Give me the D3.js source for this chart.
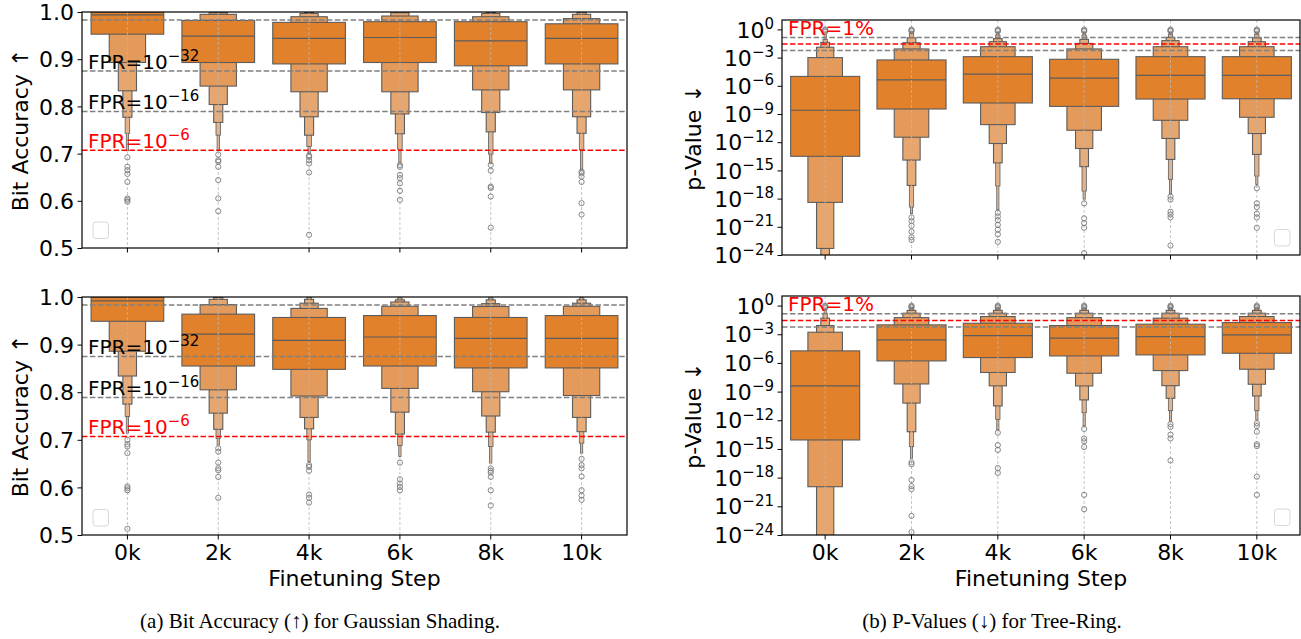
<!DOCTYPE html>
<html><head><meta charset="utf-8">
<script src="https://cdn.jsdelivr.net/npm/d3@7"></script>
<style>
body{margin:0;background:#fff}
svg{display:block}
text{font-family:"DejaVu Sans",sans-serif}
text.cap{font-family:"Liberation Serif","Times New Roman",serif}
</style>
</head><body>
<svg id="c" width="1301" height="639"></svg>
<script>
// ---------------- DATA ----------------
const categories = ["0k","2k","4k","6k","8k","10k"];
const accTicks = [0.5,0.6,0.7,0.8,0.9,1.0];
const pvTickExps = [0,-3,-6,-9,-12,-15,-18,-21,-24];

// (a) top: Bit accuracy letter-value boxes (level 0 = quartiles, outward)
const accTopMedian = [0.994,0.949,0.944,0.946,0.939,0.944];
const accTopLo = [
  [0.953,0.893,0.833,0.777,0.743,0.706],
  [0.893,0.843,0.804,0.766,0.739,0.706],
  [0.890,0.831,0.778,0.739,0.715,0.700],
  [0.893,0.831,0.784,0.742,0.709,0.680],
  [0.886,0.835,0.787,0.746,0.699,0.679],
  [0.890,0.835,0.778,0.743,0.708,0.665]];
const accTopHi = [
  [1.0,1.0,1.0,1.0,1.0,1.0],
  [0.982,0.995,0.9985,1.0,1.0,1.0],
  [0.978,0.990,0.997,0.999,1.0,1.0],
  [0.9795,0.9915,0.9985,1.0,1.0,1.0],
  [0.9795,0.990,0.997,0.999,1.0,1.0],
  [0.975,0.986,0.995,0.999,1.0,1.0]];
const accTopOutliers = [
  [0.692,0.672,0.665,0.657,0.640,0.605,0.602,0.598],
  [0.698,0.686,0.683,0.672,0.644,0.605,0.578],
  [0.696,0.693,0.686,0.679,0.660,0.528],
  [0.676,0.672,0.655,0.648,0.637,0.621,0.602],
  [0.676,0.664,0.630,0.627,0.609,0.543],
  [0.662,0.658,0.651,0.640,0.595,0.571]];

// (a) bottom
const accBotMedian = [0.992,0.922,0.909,0.916,0.913,0.913];
const accBotLo = [
  [0.949,0.886,0.834,0.775,0.749,0.714],
  [0.855,0.805,0.756,0.722,0.703,0.689],
  [0.848,0.792,0.747,0.723,0.700,0.654],
  [0.855,0.808,0.758,0.712,0.688,0.665],
  [0.851,0.801,0.750,0.716,0.686,0.651],
  [0.851,0.793,0.747,0.717,0.693,0.672]];
const accBotHi = [
  [1.0,1.0,1.0,1.0,1.0,1.0],
  [0.964,0.984,0.995,0.999,1.0,1.0],
  [0.957,0.976,0.987,0.995,0.999,1.0],
  [0.961,0.9805,0.9895,0.994,0.998,1.0],
  [0.957,0.980,0.986,0.994,0.998,1.0],
  [0.961,0.9805,0.987,0.994,0.998,1.0]];
const accBotOutliers = [
  [0.700,0.691,0.686,0.672,0.602,0.598,0.594,0.513],
  [0.682,0.675,0.652,0.640,0.636,0.622,0.578],
  [0.647,0.643,0.635,0.585,0.578,0.568],
  [0.652,0.617,0.608,0.601,0.594],
  [0.640,0.635,0.631,0.622,0.594,0.562],
  [0.660,0.647,0.640,0.623,0.594,0.583,0.574]];

// (b) top: p-values, stored as log10(p)
const pvTopMedianLog = [-8.6,-5.37,-4.76,-5.19,-4.9,-4.9];
const pvTopLoLog = [
  [-13.5,-18.4,-23.3,-27,-28,-29],
  [-8.47,-11.47,-13.9,-16.6,-18.9,-19.6],
  [-7.83,-10.13,-12.14,-14.2,-16.66,-19.2],
  [-8.19,-10.73,-12.67,-14.6,-17.2,-18.06],
  [-7.41,-9.67,-11.6,-13.83,-15.95,-17.5],
  [-7.38,-9.35,-11.08,-13.3,-15.6,-16.5]];
const pvTopHiLog = [
  [-5.0,-3.0,-1.9,-1.38,-1.06,-0.5],
  [-3.25,-2.08,-1.42,-0.89,-0.42,-0.2],
  [-2.9,-1.84,-1.31,-0.98,-0.6,-0.3],
  [-3.18,-2.08,-1.49,-1.06,-0.6,-0.3],
  [-2.9,-1.84,-1.2,-0.85,-0.5,-0.3],
  [-2.9,-1.84,-1.31,-0.9,-0.5,-0.3]];
const pvTopOutliersLog = [
  [-0.02,-0.12,-0.25],
  [-20.0,-20.4,-20.9,-21.5,-22.1,-22.4,-0.02,-0.12,-0.2],
  [-19.5,-19.9,-20.3,-20.8,-21.3,-21.8,-22.6,-0.02,-0.12,-0.2],
  [-18.5,-20.1,-20.6,-21.1,-23.8,-0.02,-0.12,-0.2],
  [-17.8,-18.1,-19.4,-19.7,-20.0,-23.0,-0.02,-0.12,-0.2],
  [-16.9,-18.5,-18.9,-19.6,-20.0,-21.1,-0.02,-0.12,-0.2]];

// (b) bottom
const pvBotMedianLog = [-8.41,-3.59,-3.14,-3.41,-3.24,-3.07];
const pvBotLoLog = [
  [-14.06,-18.95,-26,-27,-28,-29],
  [-5.79,-8.2,-10.2,-13.2,-14.76,-16.0],
  [-5.44,-7.0,-8.4,-10.5,-11.9,-13.0],
  [-5.27,-7.08,-8.41,-9.87,-11.2,-12.6],
  [-5.16,-6.8,-8.38,-9.7,-11.0,-12.1],
  [-4.99,-6.66,-8.23,-9.46,-11.0,-11.97]];
const pvBotHiLog = [
  [-4.74,-2.79,-2.09,-1.32,-0.8,-0.4],
  [-2.02,-1.26,-0.8,-0.5,-0.3,-0.15],
  [-1.85,-1.15,-0.8,-0.5,-0.3,-0.15],
  [-2.09,-1.26,-0.8,-0.5,-0.3,-0.15],
  [-1.95,-1.32,-0.8,-0.5,-0.3,-0.15],
  [-1.78,-1.15,-0.8,-0.5,-0.3,-0.15]];
const pvBotOutliersLog = [
  [-0.02,-0.12,-0.25],
  [-16.4,-16.6,-18.25,-18.9,-19.2,-22.0,-23.7,-0.02,-0.12,-0.2],
  [-13.3,-14.6,-15.1,-17.0,-17.5,-0.02,-0.12,-0.2],
  [-12.9,-13.9,-14.2,-14.8,-19.8,-21.3,-0.02,-0.12,-0.2],
  [-12.4,-12.7,-13.5,-13.9,-16.2,-0.02,-0.12,-0.2],
  [-12.3,-12.6,-13.2,-14.5,-14.7,-17.9,-19.8,-0.02,-0.12,-0.2]];

// reference lines
const accGrayLines = [0.983,0.875,0.789];
const accRedLines = [0.707];
const accLineLabels = [
  {v:0.875, base:"FPR=10", sup:"\u221232", color:"#000"},
  {v:0.789, base:"FPR=10", sup:"\u221216", color:"#000"},
  {v:0.707, base:"FPR=10", sup:"\u22126", color:"#ff0000"}];
const pvGrayLinesLog = [-0.85,-2.25];
const pvRedLinesLog = [-1.55];
const pvLineLabels = [{v:-0.85, base:"FPR=1%", sup:"", color:"#ff0000"}];

const levelColors = ["#e1812c","#e49a5a","#e7a66e","#e9ad7a","#eab284","#ebb68b"];

// ---------------- DRAW ----------------
const svg = d3.select("#c");
let clipN = 0;

function panel(o){
  const g = svg.append("g");
  const x = d3.scaleBand().domain(categories).range([o.x0,o.x1]).padding(0);
  const y = o.y;
  const id = "clip"+(clipN++);
  svg.append("defs").append("clipPath").attr("id",id)
    .append("rect").attr("x",o.x0).attr("y",o.y0).attr("width",o.x1-o.x0).attr("height",o.y1-o.y0);
  const plot = g.append("g").attr("clip-path","url(#"+id+")");
  const bw = x.bandwidth()*0.8;

  categories.forEach((c,i)=>{
    const cx = x(c)+x.bandwidth()/2;
    const lo=o.lo[i], hi=o.hi[i];
    for(let k=lo.length-1;k>=0;k--){
      const w = bw/Math.pow(2,k);
      const yt = y(o.v(hi[k])), yb = y(o.v(lo[k]));
      plot.append("rect").attr("x",cx-w/2).attr("y",yt).attr("width",w).attr("height",Math.max(0,yb-yt))
        .attr("fill",levelColors[k]).attr("stroke","#5c5c5c").attr("stroke-width",k>3?0.8:1.1);
    }
    plot.append("line").attr("x1",cx-bw/2).attr("x2",cx+bw/2)
      .attr("y1",y(o.v(o.med[i]))).attr("y2",y(o.v(o.med[i])))
      .attr("stroke","#5c5c5c").attr("stroke-width",1.2);
  });
  // vertical grid
  categories.forEach(c=>{
    const cx = x(c)+x.bandwidth()/2;
    plot.append("line").attr("x1",cx).attr("x2",cx).attr("y1",o.y0).attr("y2",o.y1)
      .attr("stroke","#b8b8b8").attr("stroke-width",0.8).attr("stroke-dasharray","3,2");
  });
  // outliers
  categories.forEach((c,i)=>{
    const cx = x(c)+x.bandwidth()/2;
    o.out[i].forEach(v=>{
      plot.append("circle").attr("cx",cx).attr("cy",y(o.v(v))).attr("r",2.6)
        .attr("fill","none").attr("stroke","#7a7a7a").attr("stroke-width",0.9);
    });
  });
  // reference lines
  o.gray.forEach(v=>{
    plot.append("line").attr("x1",o.x0).attr("x2",o.x1).attr("y1",y(o.v(v))).attr("y2",y(o.v(v)))
      .attr("stroke","#808080").attr("stroke-width",1.5).attr("stroke-dasharray","5.5,2.4");
  });
  o.red.forEach(v=>{
    plot.append("line").attr("x1",o.x0).attr("x2",o.x1).attr("y1",y(o.v(v))).attr("y2",y(o.v(v)))
      .attr("stroke","#ff0000").attr("stroke-width",1.5).attr("stroke-dasharray","5.5,2.4");
  });
  o.labels.forEach(L=>{
    const t = g.append("text").attr("x",o.x0+6).attr("y",y(o.v(L.v))-2.2)
      .attr("fill",L.color).attr("font-size",20);
    t.append("tspan").text(L.base);
    if(L.sup) t.append("tspan").attr("dy",-8).attr("font-size",15).text(L.sup);
  });
  // legend (empty)
  g.append("rect").attr("x",o.leg[0]).attr("y",o.leg[1]).attr("width",15.5).attr("height",16.5)
    .attr("rx",3).attr("fill","#fff").attr("fill-opacity",0.8).attr("stroke","#d8d8d8").attr("stroke-width",1);
  // frame
  g.append("rect").attr("x",o.x0).attr("y",o.y0).attr("width",o.x1-o.x0).attr("height",o.y1-o.y0)
    .attr("fill","none").attr("stroke","#000").attr("stroke-width",1.2);
  // x axis
  const xa = g.append("g").attr("transform","translate(0,"+o.y1+")")
    .call(d3.axisBottom(x).tickSize(4.5).tickPadding(4).tickFormat(o.xlabels?null:()=>""));
  xa.select(".domain").remove();
  xa.selectAll(".tick line").attr("stroke","#000").attr("stroke-width",1);
  xa.selectAll(".tick text").attr("font-size",22).attr("fill","#000")
    .attr("dy",null).attr("y",25);
  // y axis
  const ya = g.append("g").attr("transform","translate("+o.x0+",0)")
    .call(d3.axisLeft(y).tickValues(o.ticks).tickSize(4.5).tickPadding(3.5).tickFormat(()=>""));
  ya.select(".domain").remove();
  ya.selectAll(".tick line").attr("stroke","#000").attr("stroke-width",1);
  ya.selectAll(".tick text").each(function(d){
    const t = d3.select(this).attr("font-size",22).attr("fill","#000");
    t.text(null).attr("dy",null).attr("y",7.6);
    if(o.log){
      t.append("tspan").text("10");
      t.append("tspan").attr("dy",-8.5).attr("font-size",15)
        .text(o.expLabel(d));
    } else {
      t.text(d3.format(".1f")(d));
    }
  });
  // y label
  g.append("text").attr("transform","translate("+o.ylx+","+((o.y0+o.y1)/2)+") rotate(-90)")
    .attr("text-anchor","middle").attr("font-size",22).attr("fill","#000").text(o.ylabel);
  if(o.xlabels){
    g.append("text").attr("x",(o.x0+o.x1)/2).attr("y",585.5).attr("text-anchor","middle")
      .attr("font-size",22).attr("fill","#000").text("Finetuning Step");
  }
}

const idv = v=>v;
const p10 = e=>Math.pow(10,e);
const expLabel = d=>{ const e=Math.round(Math.log10(d)); return e<0?"\u2212"+(-e):String(e); };
const pvTicks = pvTickExps.map(p10);

panel({x0:82,x1:627,y0:12,y1:248, y:d3.scaleLinear().domain([0.5,1]).range([248,12]), v:idv,
  lo:accTopLo, hi:accTopHi, med:accTopMedian, out:accTopOutliers, gray:accGrayLines, red:accRedLines,
  labels:accLineLabels, ticks:accTicks, log:false, ylabel:"Bit Accuracy \u2191", ylx:28, xlabels:false, leg:[93,222]});
panel({x0:82,x1:627,y0:297,y1:535, y:d3.scaleLinear().domain([0.5,1]).range([535,297]), v:idv,
  lo:accBotLo, hi:accBotHi, med:accBotMedian, out:accBotOutliers, gray:accGrayLines, red:accRedLines,
  labels:accLineLabels, ticks:accTicks, log:false, ylabel:"Bit Accuracy \u2191", ylx:28, xlabels:true, leg:[93,509.5]});
panel({x0:782,x1:1300,y0:20,y1:255, y:d3.scaleLog().domain([1e-24,10]).range([255,20]), v:p10,
  lo:pvTopLoLog, hi:pvTopHiLog, med:pvTopMedianLog, out:pvTopOutliersLog, gray:pvGrayLinesLog, red:pvRedLinesLog,
  labels:pvLineLabels, ticks:pvTicks, log:true, expLabel, ylabel:"p-Value \u2193", ylx:701, xlabels:false, leg:[1274.5,229.5]});
panel({x0:782,x1:1300,y0:296,y1:535, y:d3.scaleLog().domain([1e-24,10]).range([535,296]), v:p10,
  lo:pvBotLoLog, hi:pvBotHiLog, med:pvBotMedianLog, out:pvBotOutliersLog, gray:pvGrayLinesLog, red:pvRedLinesLog,
  labels:pvLineLabels, ticks:pvTicks, log:true, expLabel, ylabel:"p-Value \u2193", ylx:701, xlabels:true, leg:[1274.5,509]});

// captions
svg.append("text").attr("class","cap").attr("x",320).attr("y",628).attr("text-anchor","middle")
  .attr("font-size",21).attr("fill","#000")
  .text("(a) Bit Accuracy (\u2191) for Gaussian Shading.");
svg.append("text").attr("class","cap").attr("x",992).attr("y",628).attr("text-anchor","middle")
  .attr("font-size",21).attr("fill","#000")
  .text("(b) P-Values (\u2193) for Tree-Ring.");
</script>
</body></html>
